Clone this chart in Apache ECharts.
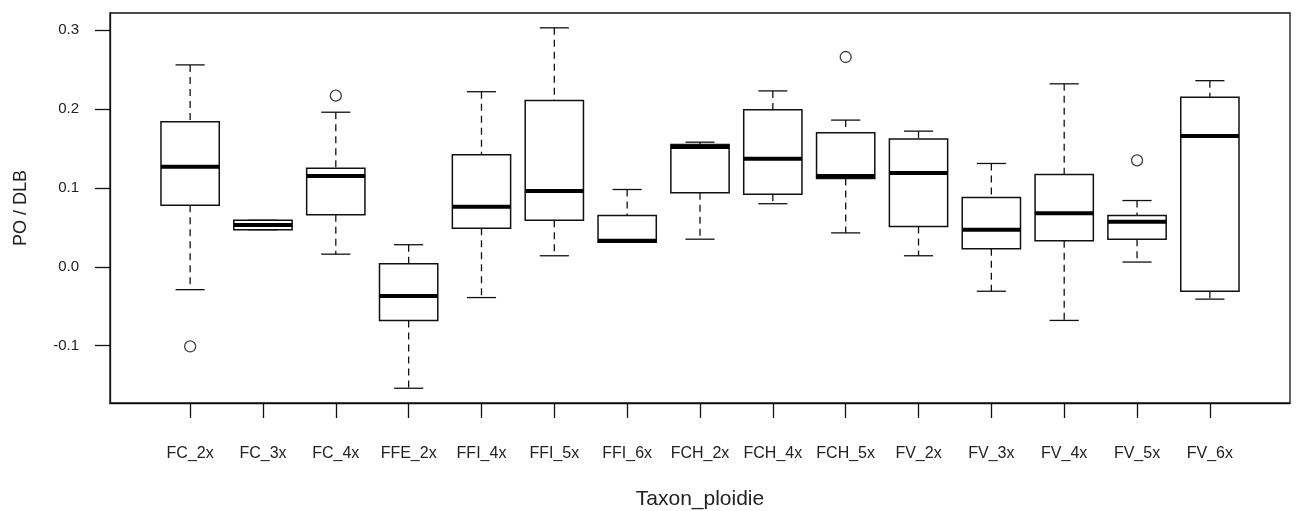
<!DOCTYPE html>
<html>
<head>
<meta charset="utf-8">
<title>PO / DLB par taxon</title>
<script src="https://cdn.jsdelivr.net/npm/echarts@6/dist/echarts.min.js"></script>
<style>
  html, body { margin: 0; padding: 0; background: #fff; }
  #chart { width: 1301px; height: 511px; }
</style>
</head>
<body>
<div id="chart"></div>
<script>
// catégories (axe x)
const categories = ['FC_2x', 'FC_3x', 'FC_4x', 'FFE_2x', 'FFI_4x', 'FFI_5x', 'FFI_6x',
  'FCH_2x', 'FCH_4x', 'FCH_5x', 'FV_2x', 'FV_3x', 'FV_4x', 'FV_5x', 'FV_6x'];

// statistiques des boîtes
const whiskerLow  = [-0.029, 0.047, 0.016, -0.154, -0.039, 0.014, 0.031, 0.035, 0.080, 0.043, 0.014, -0.031, -0.068, 0.006, -0.041];
const q1          = [0.078, 0.047, 0.066, -0.068, 0.049, 0.059, 0.031, 0.094, 0.092, 0.112, 0.051, 0.023, 0.033, 0.035, -0.031];
const median      = [0.127, 0.053, 0.115, -0.037, 0.076, 0.096, 0.033, 0.152, 0.137, 0.115, 0.119, 0.047, 0.068, 0.057, 0.166];
const q3          = [0.184, 0.059, 0.125, 0.004, 0.142, 0.211, 0.065, 0.155, 0.199, 0.170, 0.162, 0.088, 0.117, 0.065, 0.215];
const whiskerHigh = [0.256, 0.059, 0.196, 0.028, 0.222, 0.303, 0.098, 0.158, 0.223, 0.186, 0.172, 0.131, 0.232, 0.084, 0.236];

// valeurs extrêmes
const outlierCats = ['FC_2x', 'FC_4x', 'FCH_5x', 'FV_5x'];
const outlierVals = [-0.101, 0.217, 0.266, 0.135];

// graduations de l'axe y
const yTicks = [-0.1, 0.0, 0.1, 0.2, 0.3];

const FONT = 'Liberation Sans, Arial, sans-serif';
const INK = '#111';

const chart = echarts.init(document.getElementById('chart'));

const boxData = categories.map((c, i) => [i + 1, whiskerLow[i], q1[i], median[i], q3[i], whiskerHigh[i]]);
const outlierData = outlierCats.map((c, i) => [categories.indexOf(c) + 1, outlierVals[i]]);
const xPositions = categories.map((c, i) => i + 1);

// dessin d'une boîte à moustaches
function renderBox(params, api) {
  const x = api.value(0);
  const pLow = api.coord([x, api.value(1)]);
  const pQ1 = api.coord([x, api.value(2)]);
  const pMed = api.coord([x, api.value(3)]);
  const pQ3 = api.coord([x, api.value(4)]);
  const pHigh = api.coord([x, api.value(5)]);
  const halfW = api.size([0.8, 0])[0] / 2;
  const capHalf = halfW / 2;
  const cx = pMed[0];
  const dash = { stroke: INK, lineWidth: 1.3, lineDash: [7, 5] };
  const solid = { stroke: INK, lineWidth: 1.3 };
  return {
    type: 'group',
    children: [
      { type: 'line', shape: { x1: cx, y1: pHigh[1], x2: cx, y2: pQ3[1] }, style: dash },
      { type: 'line', shape: { x1: cx, y1: pQ1[1], x2: cx, y2: pLow[1] }, style: dash },
      { type: 'line', shape: { x1: cx - capHalf, y1: pHigh[1], x2: cx + capHalf, y2: pHigh[1] }, style: solid },
      { type: 'line', shape: { x1: cx - capHalf, y1: pLow[1], x2: cx + capHalf, y2: pLow[1] }, style: solid },
      {
        type: 'rect',
        shape: { x: cx - halfW, y: pQ3[1], width: halfW * 2, height: pQ1[1] - pQ3[1] },
        style: { fill: '#fff', stroke: INK, lineWidth: 1.5 }
      },
      { type: 'line', shape: { x1: cx - halfW, y1: pMed[1], x2: cx + halfW, y2: pMed[1] }, style: { stroke: '#000', lineWidth: 4 } }
    ]
  };
}

const option = {
  animation: false,
  backgroundColor: '#fff',
  grid: {
    left: 110,
    right: 11,
    top: 13,
    bottom: 108,
    outerBoundsMode: 'none',
    containLabel: false,
    show: true,
    borderColor: INK,
    borderWidth: 1.3,
    backgroundColor: 'transparent'
  },
  xAxis: {
    type: 'value',
    min: -0.1,
    max: 16.1,
    name: 'Taxon_ploidie',
    nameLocation: 'middle',
    nameGap: 86,
    nameTextStyle: { fontFamily: FONT, fontSize: 21, color: '#222' },
    axisLine: { show: true, onZero: false, lineStyle: { color: INK, width: 1.3 } },
    axisTick: { show: true, length: 15, customValues: xPositions, lineStyle: { color: INK, width: 1.3 } },
    axisLabel: {
      customValues: xPositions,
      margin: 43,
      fontFamily: FONT,
      fontSize: 16,
      color: '#222',
      formatter: v => categories[Math.round(v) - 1] || ''
    },
    splitLine: { show: false }
  },
  yAxis: {
    type: 'value',
    min: -0.1727,
    max: 0.3218,
    name: 'PO / DLB',
    nameLocation: 'middle',
    nameGap: 80,
    nameTextStyle: { fontFamily: FONT, fontSize: 18, color: '#222' },
    axisLine: { show: true, onZero: false, lineStyle: { color: INK, width: 1.3 } },
    axisTick: { show: true, length: 15, customValues: yTicks, lineStyle: { color: INK, width: 1.3 } },
    axisLabel: {
      customValues: yTicks,
      margin: 31,
      fontFamily: FONT,
      fontSize: 15,
      color: '#222',
      formatter: v => v.toFixed(1)
    },
    splitLine: { show: false }
  },
  series: [
    {
      type: 'custom',
      renderItem: renderBox,
      encode: { x: 0, y: [1, 2, 3, 4, 5] },
      data: boxData,
      z: 3
    },
    {
      type: 'scatter',
      symbol: 'circle',
      symbolSize: 11,
      itemStyle: { color: '#fff', borderColor: INK, borderWidth: 1.3 },
      data: outlierData,
      z: 4
    }
  ]
};

chart.setOption(option);
window.addEventListener('resize', () => chart.resize());
</script>
</body>
</html>
